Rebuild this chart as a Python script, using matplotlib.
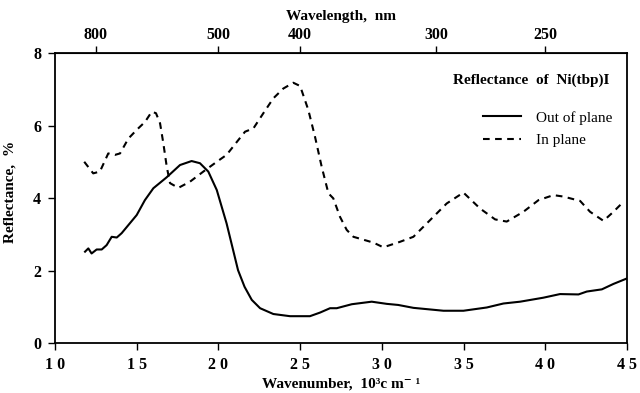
import matplotlib
matplotlib.use("Agg")
import matplotlib.pyplot as plt
import numpy as np

plt.rcParams['font.family'] = ['Liberation Serif', 'DejaVu Serif']

# Out of plane (solid): wavenumber (10^3 cm^-1), reflectance (%)
out_x = [11.84, 12.04, 12.24, 12.55, 12.86, 13.16, 13.47, 13.78, 14.08, 15.0, 15.5,
         16.02, 16.83, 17.65, 18.36, 18.87, 19.38, 19.9, 20.5, 21.2, 21.6, 22.04,
         22.55, 23.36, 24.38, 25.6, 26.22, 26.83, 27.24, 28.16, 29.38, 30.3, 31.0,
         31.93, 33.77, 34.99, 36.42, 37.44, 38.46, 39.88, 40.9, 42.03, 42.54, 43.46,
         44.17, 44.99]
out_y = [2.52, 2.61, 2.47, 2.58, 2.58, 2.70, 2.93, 2.91, 3.03, 3.53, 3.94,
         4.27, 4.57, 4.91, 5.02, 4.96, 4.73, 4.22, 3.30, 2.01, 1.55, 1.19,
         0.96, 0.80, 0.74, 0.74, 0.84, 0.96, 0.96, 1.07, 1.14, 1.08, 1.05,
         0.97, 0.89, 0.89, 0.98, 1.09, 1.14, 1.25, 1.35, 1.34, 1.42, 1.48,
         1.63, 1.78]

# In plane (dashed)
in_x = [11.79, 12.34, 12.75, 13.26, 13.67, 13.98, 14.49, 15.0, 15.51, 15.92, 16.18,
        16.43, 16.63, 16.84, 17.04, 17.55, 18.26, 19.08, 19.9, 20.5, 21.22, 21.63,
        22.14, 22.75, 23.36, 23.97, 24.58, 25.0, 25.5, 25.91, 26.32, 26.73, 27.03,
        27.44, 27.85, 28.26, 29.48, 30.09, 31.1, 31.93, 32.95, 33.97, 34.99, 36.01,
        36.93, 37.64, 38.66, 39.58, 40.5, 41.11, 42.13, 42.74, 43.56, 44.17, 44.68]
in_y = [5.00, 4.68, 4.73, 5.23, 5.19, 5.23, 5.64, 5.88, 6.10, 6.38, 6.34,
        6.06, 5.51, 4.86, 4.41, 4.28, 4.45, 4.73, 5.00, 5.19, 5.60, 5.83,
        5.92, 6.34, 6.75, 7.02, 7.18, 7.09, 6.43, 5.69, 4.86, 4.13, 3.99,
        3.48, 3.12, 2.93, 2.77, 2.64, 2.79, 2.93, 3.39, 3.85, 4.15, 3.71,
        3.41, 3.35, 3.62, 3.94, 4.08, 4.04, 3.92, 3.62, 3.37, 3.62, 3.85]

x_ticks = [10, 15, 20, 25, 30, 35, 40, 45]
x_ticklabels = ['1 0', '1 5', '2 0', '2 5', '3 0', '3 5', '4 0', '4 5']
y_ticks = [0, 2, 4, 6, 8]
wl_ticks = [800, 500, 400, 300, 250]

fig = plt.figure(figsize=(6.4, 3.93), dpi=100)
ax = fig.add_axes([0.0859, 0.1272, 0.8938, 0.7379])

ax.plot(out_x, out_y, color='black', lw=1.5, label='Out of plane')
ax.plot(in_x, in_y, color='black', lw=1.5, ls=(0, (3.2, 2.6)), label='In plane')

ax.set_xlim(10, 45)
ax.set_ylim(0, 8)
ax.set_xticks(x_ticks)
ax.set_xticklabels(x_ticklabels, fontweight='bold', fontsize=11.5)
ax.set_yticks(y_ticks)
ax.set_yticklabels([str(v) for v in y_ticks], fontweight='bold', fontsize=11.5)
ax.tick_params(axis='both', direction='out', length=5, width=1, pad=5)
for s in ax.spines.values():
    s.set_linewidth(1.3)

ax.set_xlabel('Wavenumber,  10³c m⁻ ¹', fontweight='bold', fontsize=11)
ax.xaxis.set_label_coords(0.5, -0.118)
ax.set_ylabel('Reflectance,  %', fontweight='bold', fontsize=11)
ax.yaxis.set_label_coords(-0.068, 0.52)

sec = ax.secondary_xaxis('top', functions=(lambda k: 1e4 / np.asarray(k, dtype=float),
                                           lambda w: 1e4 / np.asarray(w, dtype=float)))
sec.set_xticks(wl_ticks)
sec.set_xticklabels([str(w) for w in wl_ticks], fontweight='bold', fontsize=11.5)
sec.tick_params(direction='out', length=5, width=1, pad=2)
sec.set_xlabel('Wavelength,  nm', fontweight='bold', fontsize=11, labelpad=5)

ax.text(0.97, 0.907, 'Reflectance  of  Ni(tbp)I', transform=ax.transAxes,
        ha='right', va='center', fontweight='bold', fontsize=11)

leg = ax.legend(loc='upper left', bbox_to_anchor=(0.748, 0.80), frameon=False,
                fontsize=11, handlelength=2.5, handletextpad=1.0,
                labelspacing=0.55, borderaxespad=0, borderpad=0)

fig.savefig('out.png', dpi=100)
